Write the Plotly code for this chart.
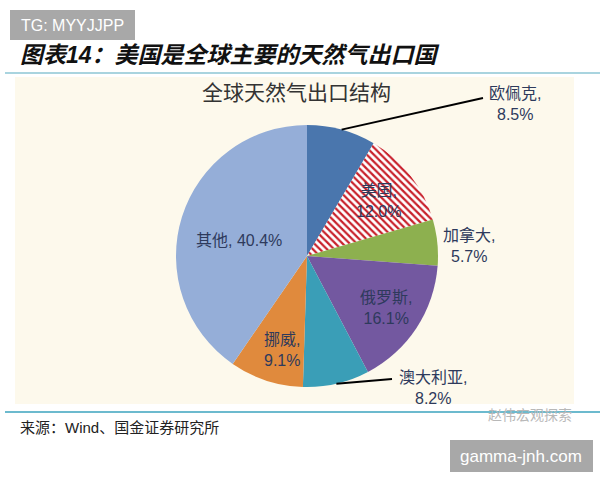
import math
import plotly.graph_objects as go

# ---- data ----
labels = ["欧佩克", "美国", "加拿大", "俄罗斯", "澳大利亚", "挪威", "其他"]
values = [8.5, 12.0, 5.7, 16.1, 8.2, 9.1, 40.4]
colors = ["#4A76AD", "#FFFFFF", "#8DB04F", "#7358A0", "#3A9EB7", "#E08A3D", "#95AED8"]
patterns = ["", "\\", "", "", "", "", ""]

title_text = "图表14：美国是全球主要的天然气出口国"
chart_title = "全球天然气出口结构"
source_text = "来源：Wind、国金证券研究所"

W, H = 600, 480
CX, CY, R = 307, 256, 131  # pie centre / radius in pixels


def P(x, y):
    return x / W, 1 - y / H


fig = go.Figure()
fig.add_trace(go.Pie(
    labels=labels, values=values, sort=False, direction="clockwise", rotation=0,
    textinfo="none", hoverinfo="label+percent",
    marker=dict(colors=colors, line=dict(width=0),
                pattern=dict(shape=patterns, fgcolor="#C8202A", bgcolor="#FFFFFF",
                             size=5, solidity=0.45)),
    domain=dict(x=[(CX - R) / W, (CX + R) / W], y=[1 - (CY + R) / H, 1 - (CY - R) / H]),
    showlegend=False,
))

shapes = []
annotations = []
# panel background and rules
shapes.append(dict(type="rect", xref="paper", yref="paper", x0=15 / W, x1=574 / W,
                   y0=1 - 404 / H, y1=1 - 77 / H, fillcolor="#FDF9EC", line=dict(width=0), layer="below"))
shapes.append(dict(type="line", xref="paper", yref="paper", x0=5 / W, x1=1, y0=1 - 73 / H, y1=1 - 73 / H,
                   line=dict(color="#8CC6D4", width=1.5)))
shapes.append(dict(type="line", xref="paper", yref="paper", x0=5 / W, x1=1, y0=1 - 412 / H, y1=1 - 412 / H,
                   line=dict(color="#3BA3BE", width=1.5)))

lab_font = dict(family="Liberation Sans, Noto Sans CJK SC", size=16, color="#2E3A5C")

# label placement (style): radius in px for text, or leader line end offset
place = {
    "欧佩克": dict(line_end=(483, 98), text=(515, 104)),
    "美国": dict(r=90),
    "加拿大": dict(r=163, dy=6),
    "俄罗斯": dict(r=94),
    "澳大利亚": dict(line_end=(392, 379), text=(433, 388)),
    "挪威": dict(r=99, dx=6),
    "其他": dict(r=71, dy=6, single=True),
}

cum = 0.0
total = sum(values)
for lab, v in zip(labels, values):
    mid = math.radians((cum + v / 2) / total * 360)
    cum += v
    p = place[lab]
    if p.get("single"):
        txt = f"{lab}, {v:.1f}%"
    else:
        txt = f"{lab},<br>{v:.1f}%"
    if "line_end" in p:
        ex, ey = CX + R * math.sin(mid), CY - R * math.cos(mid)
        lx, ly = p["line_end"]
        x0, y0 = P(ex, ey)
        x1, y1 = P(lx, ly)
        shapes.append(dict(type="line", xref="paper", yref="paper", x0=x0, y0=y0, x1=x1, y1=y1,
                           line=dict(color="#000000", width=2)))
        tx, ty = p["text"]
    else:
        r = p["r"]
        tx = CX + r * math.sin(mid) + p.get("dx", 0)
        ty = CY - r * math.cos(mid) + p.get("dy", 0)
    ax_, ay_ = P(tx, ty)
    annotations.append(dict(x=ax_, y=ay_, xref="paper", yref="paper", text=txt, showarrow=False,
                            font=lab_font, xanchor="center", yanchor="middle", align="center"))

# titles
annotations.append(dict(x=18 / W, y=1 - 55 / H, xref="paper", yref="paper",
                        text=f"<b><i>{title_text}</i></b>", showarrow=False, xanchor="left", yanchor="middle",
                        font=dict(family="Liberation Sans, Noto Sans CJK SC", size=23, color="#111111")))
annotations.append(dict(x=296 / W, y=1 - 91 / H, xref="paper", yref="paper", text=chart_title,
                        showarrow=False, xanchor="center", yanchor="middle",
                        font=dict(family="Noto Sans CJK SC", size=21, color="#333333")))
annotations.append(dict(x=18 / W, y=1 - 427 / H, xref="paper", yref="paper", text=source_text,
                        showarrow=False, xanchor="left", yanchor="middle",
                        font=dict(family="Liberation Sans, Noto Sans CJK SC", size=15, color="#222222")))

# watermarks
shapes.append(dict(type="rect", xref="paper", yref="paper", x0=10 / W, x1=135 / W, y0=1 - 40 / H, y1=1 - 10 / H,
                   fillcolor="#A8A8A8", line=dict(width=0)))
annotations.append(dict(x=72 / W, y=1 - 25 / H, xref="paper", yref="paper", text="TG: MYYJJPP",
                        showarrow=False, xanchor="center", yanchor="middle",
                        font=dict(family="Liberation Sans", size=16, color="#FFFFFF")))
shapes.append(dict(type="rect", xref="paper", yref="paper", x0=450 / W, x1=593 / W, y0=1 - 472 / H, y1=1 - 440 / H,
                   fillcolor="#A8A8A8", line=dict(width=0)))
annotations.append(dict(x=521 / W, y=1 - 456 / H, xref="paper", yref="paper", text="gamma-jnh.com",
                        showarrow=False, xanchor="center", yanchor="middle",
                        font=dict(family="Liberation Sans", size=17, color="#FFFFFF")))
annotations.append(dict(x=530 / W, y=1 - 414 / H, xref="paper", yref="paper", text="赵伟宏观探索",
                        showarrow=False, xanchor="center", yanchor="middle",
                        font=dict(family="Noto Sans CJK SC", size=14, color="#B8B8B8")))

fig.update_layout(width=W, height=H, margin=dict(l=0, r=0, t=0, b=0),
                  paper_bgcolor="#FFFFFF", plot_bgcolor="#FFFFFF",
                  shapes=shapes, annotations=annotations)
fig.write_html("out.html", config={"displayModeBar": False},
               post_script="document.body.style.margin='0';document.body.style.overflow='hidden';")
